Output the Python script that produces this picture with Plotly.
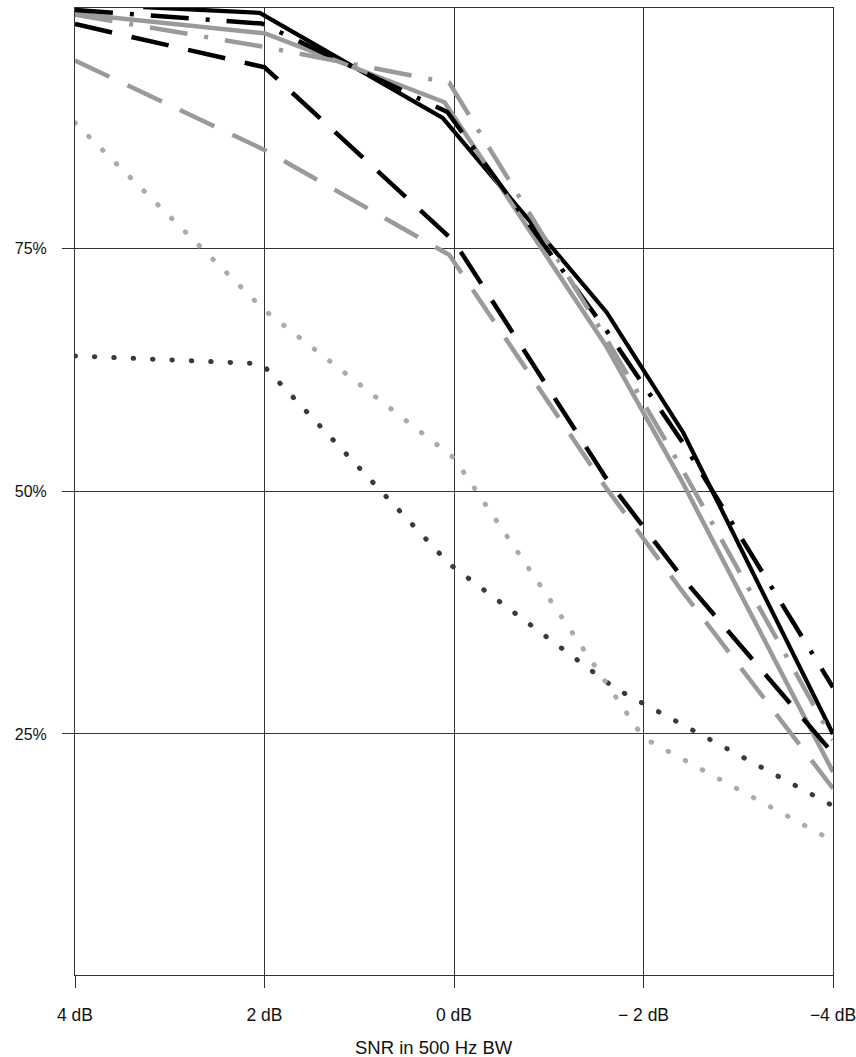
import plotly.graph_objects as go

# ---------------- data ----------------
x_ticks = [4, 2, 0, -2, -4]
x_tick_labels = ["4 dB", "2 dB", "0 dB", "\u2212 2 dB", "\u22124 dB"]
y_ticks = [25, 50, 75]
y_tick_labels = ["25%", "50%", "75%"]

black_solid_x = [3.28, 2.05, 0.12, -1.61, -2.42, -4]
black_solid_y = [99.8, 99.2, 88.4, 68.4, 56.0, 25.0]

gray_solid_x = [4, 2, 0.1, -1.6, -2.4, -4]
gray_solid_y = [99.1, 97.1, 90.0, 65.0, 51.1, 21.1]

black_dashdot_x = [4, 2.03, 0.07, -1.61, -2.42, -4]
black_dashdot_y = [99.5, 98.1, 89.0, 66.5, 54.9, 29.8]

gray_dashdot_x = [4, 2, 0.05, -1.6, -2.4, -4]
gray_dashdot_y = [99.0, 95.7, 92.0, 65.8, 52.4, 24.4]

black_longdash_x = [4, 2, 0, -1.6, -2.4, -4]
black_longdash_y = [98.05, 93.6, 75.7, 51.4, 41.2, 23.0]

gray_longdash_x = [4, 2, 0.05, -1.6, -2.4, -4]
gray_longdash_y = [94.3, 85.1, 74.3, 50.4, 39.8, 19.4]

black_dot_x = [4, 2.03, 0.05, -1.7, -4]
black_dot_y = [63.9, 63.1, 42.5, 29.7, 17.6]

gray_dot_x = [4, 2, 0, -2, -4]
gray_dot_y = [87.9, 68.6, 53.4, 24.6, 14.0]

# ---------------- styles ----------------
BLACK = "#000000"
GRAY = "#9a9a9a"
DARKDOT = "#3a3a3a"
LIGHTDOT = "#ababab"
DASHDOT = "38px,17px,4px,17px"
LONGDASH = "38px,20px"
DOTTED = "0.5px,18.9px"

series = [
    (black_solid_x, black_solid_y, BLACK, "solid", 4.2),
    (gray_solid_x, gray_solid_y, GRAY, "solid", 4.5),
    (black_dashdot_x, black_dashdot_y, BLACK, DASHDOT, 4.5),
    (gray_dashdot_x, gray_dashdot_y, GRAY, DASHDOT, 4.5),
    (black_longdash_x, black_longdash_y, BLACK, LONGDASH, 4.5),
    (gray_longdash_x, gray_longdash_y, GRAY, LONGDASH, 4.5),
    (black_dot_x, black_dot_y, DARKDOT, DOTTED, 5),
    (gray_dot_x, gray_dot_y, LIGHTDOT, DOTTED, 5),
]

fig = go.Figure()
dotted_idx = []
for i, (xs, ys, col, dash, w) in enumerate(series):
    if dash == DOTTED:
        dotted_idx.append(i)
    fig.add_trace(go.Scatter(
        x=xs, y=ys, mode="lines",
        line=dict(color=col, width=w, dash=dash),
        showlegend=False, hoverinfo="skip",
    ))

FONT = "Liberation Sans, Arial, Helvetica, sans-serif"
AX = "#333333"
TXT = "#111111"

fig.update_layout(
    width=856, height=1057,
    margin=dict(l=75, r=23, t=8, b=82, autoexpand=False),
    paper_bgcolor="white", plot_bgcolor="white",
    font=dict(family=FONT, size=17, color=TXT),
    xaxis=dict(
        range=[4, -4], tickvals=x_ticks, ticktext=x_tick_labels,
        automargin=False, ticklabeloverflow="allow",
        showgrid=True, gridcolor=AX, gridwidth=1, zeroline=False,
        showline=True, mirror=True, linecolor=AX, linewidth=1,
        ticks="outside", ticklen=12, tickcolor=AX, tickwidth=1,
        ticklabelstandoff=12,
        tickfont=dict(family=FONT, size=17.5, color=TXT),
    ),
    yaxis=dict(
        range=[0.2, 99.7], tickvals=y_ticks, ticktext=y_tick_labels,
        automargin=False, ticklabeloverflow="allow",
        showgrid=True, gridcolor=AX, gridwidth=1, zeroline=False,
        showline=True, mirror=True, linecolor=AX, linewidth=1,
        ticks="outside", ticklen=12, tickcolor=AX, tickwidth=1,
        ticklabelstandoff=12,
        tickfont=dict(family=FONT, size=16, color=TXT),
    ),
    annotations=[dict(
        text="SNR in 500 Hz BW", xref="paper", yref="paper",
        x=(434 - 75) / 758, y=(975 - 1047) / 967,
        xanchor="center", yanchor="middle", showarrow=False,
        font=dict(family=FONT, size=18.5, color=TXT),
    )],
)

post = """
var gd = document.getElementById('{plot_id}');
function caps(){
  var idx = %s;
  var traces = gd.querySelectorAll('.scatterlayer .trace');
  idx.forEach(function(i){
    if (traces[i]) traces[i].querySelectorAll('path.js-line').forEach(function(p){
      p.style.strokeLinecap = 'round';
    });
  });
}
caps();
gd.on && gd.on('plotly_afterplot', caps);
""" % str(dotted_idx)

fig.write_html("out.html", post_script=post)
